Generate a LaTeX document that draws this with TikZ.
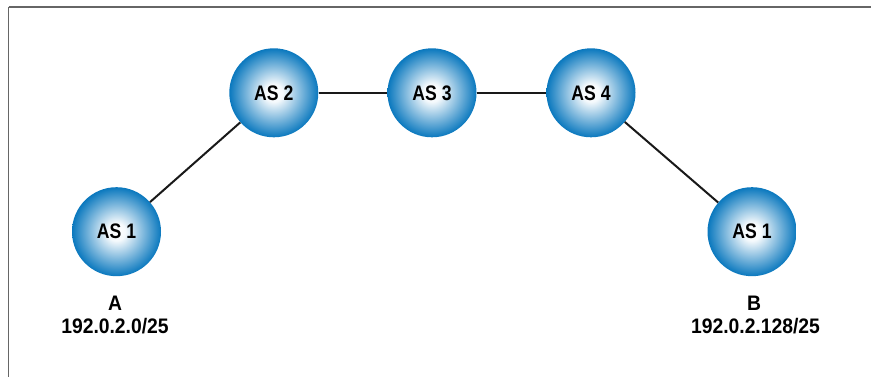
\documentclass[tikz,border=0pt]{standalone}
\usepackage{fontspec}
\setmainfont{Liberation Sans}
\newfontfamily\asfont{Liberation Sans}[FakeStretch=0.84]
\newfontfamily\ipfont{Liberation Sans}[FakeStretch=0.92]
\usetikzlibrary{shadings}
\definecolor{asblue}{HTML}{0A78BE}
\definecolor{frame}{HTML}{666666}
\pgfdeclareradialshading{asball}{\pgfpoint{0bp}{0bp}}{color(0bp)=(white); color(5bp)=(white!96!asblue); color(25bp)=(asblue); color(50bp)=(asblue)}
\tikzset{
  asnode/.style={circle, minimum size=89pt, inner sep=0pt, shading=asball, font=\asfont\bfseries\fontsize{21}{23}\selectfont},
  link/.style={line width=2pt, black!90},
  lbl/.style={font=\ipfont\bfseries\fontsize{21}{23}\selectfont, align=center, inner sep=0pt}
}
\begin{document}
\begin{tikzpicture}[x=1pt,y=-1pt]
\useasboundingbox (0,0) rectangle (871,377);
\draw[frame, line width=1.4pt] (8.5,7) -- (871,7);
\draw[frame, line width=1pt] (8.5,7) -- (8.5,377);
\node[asnode] (as1a) at (116.5,231.7) {AS 1};
\node[asnode] (as2) at (273.8,92.8) {AS 2};
\node[asnode] (as3) at (432,92.8) {AS 3};
\node[asnode] (as4) at (591,92.8) {AS 4};
\node[asnode] (as1b) at (752,231.7) {AS 1};
\draw[link] (as1a) -- (as2);
\draw[link] (as2) -- (as3);
\draw[link] (as3) -- (as4);
\draw[link] (as4) -- (as1b);
\node[lbl] (la) at (115,303) {A};
\node[lbl] (ipa) at (115,326.5) {192.0.2.0/25};
\node[lbl] (lb) at (754,303) {B};
\node[lbl] (ipb) at (755.5,326.5) {192.0.2.128/25};
\end{tikzpicture}
\end{document}
